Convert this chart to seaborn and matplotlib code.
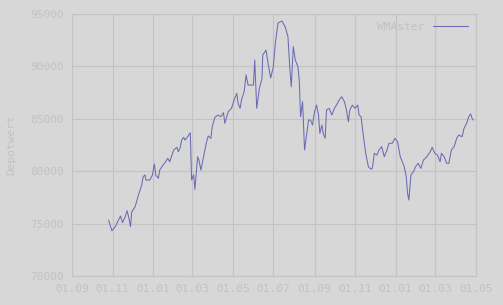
import matplotlib
matplotlib.use("Agg")
import matplotlib.pyplot as plt
import matplotlib.dates as mdates
import seaborn as sns
import pandas as pd

# ---- data ----
start_date = "2006-09-01"
day_offsets = [55, 60, 65, 70, 73, 76, 80, 83, 86, 88, 90, 95, 100, 105, 107, 110, 111, 117,
               121, 124, 126, 130, 132, 137, 141, 144, 147, 150, 153, 158, 160, 163, 165, 168,
               170, 174, 178, 180, 183, 185, 189, 191, 194, 198, 202, 205, 209, 211, 215, 220,
               224, 228, 230, 235, 240, 244, 248, 250, 253, 255, 259, 262, 265, 273, 275, 278,
               282, 286, 287, 292, 295, 299, 303, 306, 310, 316, 321, 325, 328, 330, 333, 336,
               340, 342, 344, 347, 350, 352, 356, 359, 362, 365, 368, 371, 373, 376, 378, 381,
               383, 387, 391, 395, 398, 402, 406, 410, 413, 416, 418, 422, 426, 430, 432, 435,
               438, 442, 446, 450, 452, 455, 459, 462, 466, 470, 474, 477, 482, 486, 490, 494,
               497, 500, 503, 505, 507, 510, 514, 517, 521, 525, 529, 534, 539, 542, 546, 550,
               554, 556, 560, 564, 567, 571, 575, 579, 582, 587, 590, 594, 597, 600, 602, 604]
depotwert = [75340, 74320, 74700, 75340, 75720, 75090, 75660, 76230, 75410, 74700, 76130,
             76610, 77730, 78680, 79470, 79640, 79160, 79160, 79640, 80690, 79640, 79320,
             80110, 80590, 80900, 81230, 80900, 81450, 82020, 82280, 81860, 82280, 82970,
             83230, 82970, 83290, 83670, 79160, 79640, 78270, 81380, 81070, 80110, 81380,
             82660, 83360, 83140, 84240, 85140, 85360, 85200, 85580, 84570, 85670, 86000,
             86790, 87430, 86480, 86000, 86790, 87580, 89180, 88220, 88220, 90610, 86000,
             87910, 88860, 91080, 91560, 90290, 88890, 89970, 92230, 94140, 94330, 93750,
             92830, 89650, 88060, 91880, 90610, 89970, 88700, 85200, 86630, 82020, 82970,
             84880, 84880, 84410, 85670, 86310, 85360, 83610, 84410, 83610, 83140, 85840,
             86000, 85360, 86000, 86310, 86790, 87110, 86630, 85840, 84720, 85840, 86310,
             86000, 86310, 85360, 85200, 83610, 81710, 80430, 80180, 80270, 81710, 81540,
             82020, 82340, 81380, 82020, 82660, 82660, 83140, 82810, 81380, 80900, 80430,
             79470, 77890, 77250, 79640, 79950, 80430, 80750, 80270, 81070, 81380, 81860,
             82280, 81710, 81540, 80900, 81710, 81380, 80750, 80750, 82020, 82340, 83140,
             83450, 83290, 84090, 84570, 85200, 85460, 85050, 84880]
series_name = "WMAster"
x_start, x_end = "2006-09-01", "2008-05-01"
y_ticks = [70000, 75000, 80000, 85000, 90000, 95000]
y_label = "Depotwert"
x_label = "Datum (Zeitraum)"

df = pd.DataFrame({
    "Datum": pd.Timestamp(start_date) + pd.to_timedelta(day_offsets, unit="D"),
    "Depotwert": depotwert,
    "Serie": series_name,
})

# ---- style ----
bg = "#d7d7d7"
grid_c = "#c3c3c3"
text_c = "#c2c2c2"
line_c = "#6b6bb5"

sns.set_style("whitegrid")
plt.rcParams["font.family"] = ["DejaVu Sans Mono", "DejaVu Sans"]

fig = plt.figure(figsize=(5.03, 3.05), dpi=100, facecolor=bg)
ax = fig.add_axes([72 / 503, 29 / 305, 404 / 503, 262 / 305])
ax.set_facecolor(bg)

sns.lineplot(data=df, x="Datum", y="Depotwert", hue="Serie", palette=[line_c],
             linewidth=0.75, ax=ax, estimator=None, sort=False)

ax.set_xlim(pd.Timestamp(x_start), pd.Timestamp(x_end))
ax.set_ylim(y_ticks[0], y_ticks[-1])
ax.set_yticks(y_ticks)
ax.yaxis.set_major_formatter(matplotlib.ticker.FuncFormatter(lambda v, p: f"{int(v)}"))
ax.xaxis.set_major_locator(mdates.MonthLocator(bymonth=[1, 3, 5, 7, 9, 11]))
ax.xaxis.set_major_formatter(mdates.DateFormatter("%d.%m"))

ax.grid(True, color=grid_c, linewidth=0.8)
for s in ax.spines.values():
    s.set_color(grid_c)
    s.set_linewidth(0.8)
ax.tick_params(axis="both", length=0, colors=text_c, labelsize=8, pad=6)

ax.set_ylabel(y_label, color=text_c, fontsize=8, labelpad=10)
ax.set_xlabel(x_label, color=text_c, fontsize=10, labelpad=9)

leg = ax.legend(loc="upper right", frameon=False, fontsize=8, markerfirst=False,
                handlelength=3.2, borderaxespad=0.3)
for t in leg.get_texts():
    t.set_color(text_c)

fig.savefig("out.png", dpi=100, facecolor=bg)
